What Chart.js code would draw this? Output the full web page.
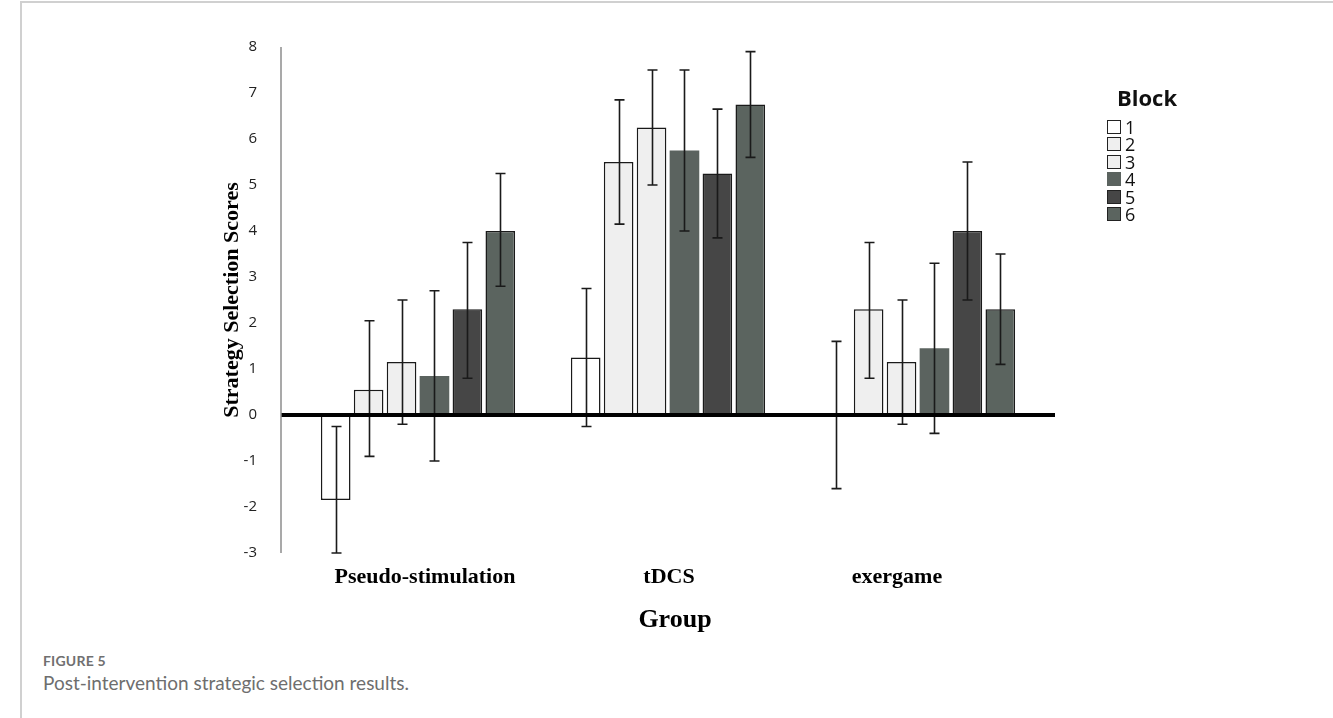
<!DOCTYPE html>
<html>
<head>
<meta charset="utf-8">
<script src="https://cdn.jsdelivr.net/npm/chart.js@4.4.1/dist/chart.umd.min.js"></script>
<style>
  html, body { margin: 0; padding: 0; background: #fff; }
  body { width: 1333px; height: 718px; position: relative; overflow: hidden; }
  .frame { position: absolute; left: 20px; top: 1px; width: 1340px; height: 720px;
           border-left: 2px solid #d0d0d0; border-top: 2px solid #d0d0d0; }
  #chart { position: absolute; left: 0; top: 0; }
  #legend { position: absolute; left: 1107px; top: 81px; font-family: "Open Sans", sans-serif; color: #111; }
  #legend .ttl { font-weight: 700; font-size: 22px; line-height: 32px; margin-left: 10px; margin-bottom: 5px; }
  #legend .it { display: flex; align-items: center; height: 17.5px; font-size: 18px; }
  #legend .sw { width: 14px; height: 14px; box-sizing: border-box; margin-right: 4px; }
  .cap1 { position: absolute; left: 43px; top: 652px; font-family: Lato, sans-serif; font-weight: 700;
          font-size: 14px; color: #707070; letter-spacing: 0.2px; }
  .cap2 { position: absolute; left: 43px; top: 671px; font-family: Lato, sans-serif;
          font-size: 19px; color: #6e6e6e; }
</style>
</head>
<body>
<div class="frame"></div>
<canvas id="chart" width="1333" height="650"></canvas>
<div id="legend"></div>
<div class="cap1">FIGURE 5</div>
<div class="cap2">Post-intervention strategic selection results.</div>
<script>
// 그룹 / 블록 이름
const groups = ["Pseudo-stimulation", "tDCS", "exergame"];
const blocks = ["1", "2", "3", "4", "5", "6"];

// 평균값
const block1 = [-1.85, 1.25, 0];
const block2 = [0.55, 5.5, 2.3];
const block3 = [1.15, 6.25, 1.15];
const block4 = [0.85, 5.75, 1.45];
const block5 = [2.3, 5.25, 4.0];
const block6 = [4.0, 6.75, 2.3];

// 오차 막대 아래/위 끝
const low1 = [-3.0, -0.25, -1.6],  high1 = [-0.25, 2.75, 1.6];
const low2 = [-0.9, 4.15, 0.8],    high2 = [2.05, 6.85, 3.75];
const low3 = [-0.2, 5.0, -0.2],    high3 = [2.5, 7.5, 2.5];
const low4 = [-1.0, 4.0, -0.4],    high4 = [2.7, 7.5, 3.3];
const low5 = [0.8, 3.85, 2.5],     high5 = [3.75, 6.65, 5.5];
const low6 = [2.8, 5.6, 1.1],      high6 = [5.25, 7.9, 3.5];

const yMin = -3, yMax = 8;

const fills   = ["#ffffff", "#efefef", "#efefef", "#5b635f", "#464646", "#5b645f"];
const borders = [1.5, 1.5, 1.5, 0, 1.5, 1.5];
const labelShift = [7, 1, -21];   // 원본에서 그룹 이름이 살짝 어긋나 있음

const values = [block1, block2, block3, block4, block5, block6];
const lows   = [low1, low2, low3, low4, low5, low6];
const highs  = [high1, high2, high3, high4, high5, high6];

const serif = "'Liberation Serif', 'Times New Roman', serif";

const datasets = blocks.map((b, i) => ({
  label: b,
  data: values[i],
  errLow: lows[i],
  errHigh: highs[i],
  backgroundColor: fills[i],
  borderColor: "#1a1a1a",
  borderWidth: borders[i],
  borderSkipped: false,
  categoryPercentage: 0.79,
  barPercentage: 0.9,
}));

// 오차 막대 + 0 기준선 + y축 선 + 그룹 이름 / 축 제목
const decor = {
  id: "decor",
  afterDatasetsDraw(chart) {
    const { ctx, chartArea: a, scales: { x, y } } = chart;
    ctx.save();
    ctx.strokeStyle = "#1a1a1a";
    ctx.lineWidth = 1.6;
    chart.data.datasets.forEach((ds, i) => {
      chart.getDatasetMeta(i).data.forEach((bar, j) => {
        const bx = Math.round(bar.x) + 0.5;
        const y1 = y.getPixelForValue(ds.errHigh[j]);
        const y2 = y.getPixelForValue(ds.errLow[j]);
        ctx.beginPath();
        ctx.moveTo(bx, y1); ctx.lineTo(bx, y2);
        ctx.moveTo(bx - 5, y1); ctx.lineTo(bx + 5, y1);
        ctx.moveTo(bx - 5, y2); ctx.lineTo(bx + 5, y2);
        ctx.stroke();
      });
    });
    const y0 = y.getPixelForValue(0);
    ctx.strokeStyle = "#000";
    ctx.lineWidth = 4;
    ctx.beginPath();
    ctx.moveTo(a.left - 12, y0); ctx.lineTo(a.right + 12, y0);
    ctx.stroke();
    ctx.strokeStyle = "#8c8c8c";
    ctx.lineWidth = 1.5;
    ctx.beginPath();
    ctx.moveTo(a.left - 12, a.top); ctx.lineTo(a.left - 12, a.bottom);
    ctx.stroke();

    ctx.fillStyle = "#000";
    ctx.textAlign = "center";
    ctx.textBaseline = "middle";
    ctx.font = "bold 22px " + serif;
    groups.forEach((g, i) => ctx.fillText(g, x.getPixelForTick(i) + labelShift[i], a.bottom + 24));
    ctx.font = "bold 26px " + serif;
    ctx.fillText("Group", (a.left + a.right) / 2 + 7, a.bottom + 67);
    ctx.restore();
  },
};

new Chart(document.getElementById("chart"), {
  type: "bar",
  data: { labels: groups, datasets },
  options: {
    responsive: false,
    animation: false,
    layout: { padding: { left: 215, right: 290, top: 47, bottom: 10 } },
    plugins: { legend: { display: false }, tooltip: { enabled: false } },
    scales: {
      x: {
        grid: { display: false, drawTicks: false },
        border: { display: false },
        ticks: { display: false },
        afterFit(s) { s.height = 87; },
      },
      y: {
        min: yMin, max: yMax,
        grid: { display: false, drawTicks: false },
        border: { display: false },
        ticks: { stepSize: 1, padding: 36, color: "#222",
                 font: { family: "'Open Sans', sans-serif", size: 15 } },
        title: { display: true, text: "Strategy Selection Scores", color: "#000", padding: { top: 4, bottom: 4 },
                 font: { family: serif, size: 22, weight: "bold" } },
        afterFit(s) { s.width = 78; },
      },
    },
  },
  plugins: [decor],
});

// 범례 (Block)
const lg = document.getElementById("legend");
lg.innerHTML = '<div class="ttl">Block</div>' + blocks.map((b, i) =>
  `<div class="it"><span class="sw" style="background:${fills[i]};border:${borders[i] ? "1.5px solid #222" : "none"}"></span>${b}</div>`
).join("");
</script>
</body>
</html>
